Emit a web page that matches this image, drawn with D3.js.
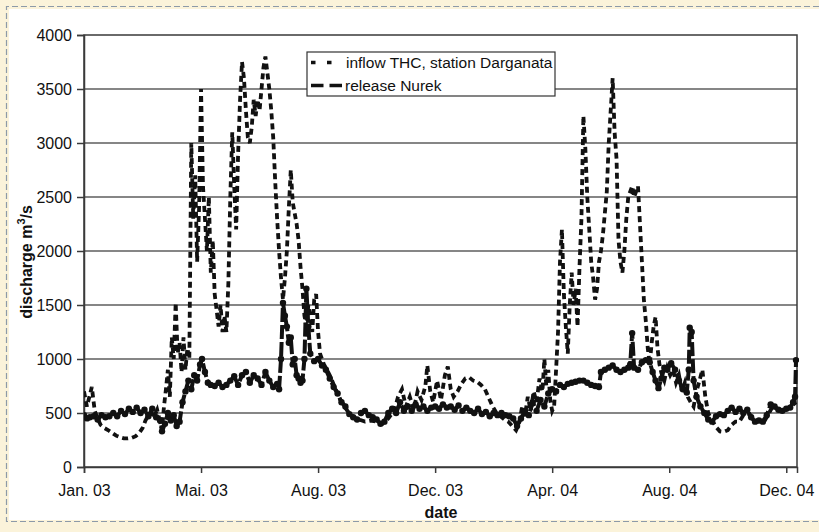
<!DOCTYPE html>
<html>
<head>
<meta charset="utf-8">
<script src="https://cdn.jsdelivr.net/npm/d3@7"></script>
<style>
  html, body { margin: 0; padding: 0; background: #fbf3da; }
  svg { display: block; }
  text { font-family: "Liberation Sans", Arial, sans-serif; fill: #111; }
</style>
</head>
<body>
<svg id="chart" width="819" height="532"></svg>
<script>
// ---------------- DATA ----------------
const startDate = Date.UTC(2003, 0, 1);
const endDate = Date.UTC(2005, 0, 1);
const tickStepDays = 120;
const xTickLabels = ["Jan. 03", "Mai. 03", "Aug. 03", "Dec. 03", "Apr. 04", "Aug. 04", "Dec. 04"];
const yTicks = [0, 500, 1000, 1500, 2000, 2500, 3000, 3500, 4000];
const seriesNames = ["inflow THC, station Darganata", "release Nurek"];

// inflow THC, station Darganata: day offset from 1 Jan 2003 and discharge m3/s
const inflowDays = [0,3,8,11,14,17,21,25,29,33,37,41,45,49,53,57,60,63,66,69,72,75,78,80,82,84,86,88,90,92,94,96,98,100,102,104,106,108,110,112,114,116,118,120,122,124,126,128,130,132,134,136,138,140,142,144,146,148,150,152,154,156,158,160,162,164,166,168,170,172,174,176,178,180,182,184,186,188,190,192,194,196,198,200,202,204,206,208,210,212,214,216,218,220,222,224,226,228,230,232,234,236,238,240,242,246,252,258,264,270,276,282,288,294,300,306,312,318,322,326,330,334,338,342,346,350,352,355,358,362,366,370,373,376,379,383,387,391,395,399,403,407,411,415,419,423,427,431,435,439,443,446,449,452,455,458,461,464,467,470,472,474,476,478,480,482,484,486,488,490,492,494,496,498,500,502,504,506,508,510,512,514,516,518,520,522,524,526,528,530,532,534,536,538,540,542,544,546,548,550,552,554,556,558,560,562,564,566,568,570,572,574,576,578,580,582,584,586,588,590,592,595,598,601,604,607,610,613,616,619,622,625,628,631,634,637,640,644,648,652,656,660,664,668,672,676,682,690,698,706,714,722,730];
const inflowValues = [700,560,740,520,450,390,360,340,315,290,275,265,265,270,285,320,360,430,480,500,470,530,420,350,560,720,900,650,1200,1000,1520,1050,1150,880,1200,900,1100,1000,3000,2300,2700,1900,2400,3500,2600,2300,2000,2500,1800,2100,1600,1450,1300,1500,1250,1400,1250,1700,2500,3100,2600,2200,2900,3400,3750,3600,3300,3050,3000,3150,3400,3250,3400,3300,3500,3700,3800,3650,3500,3300,3050,2650,2300,2000,1750,1550,1750,2000,2400,2750,2450,2350,2250,2100,1850,1650,1400,1300,1500,1400,1250,1550,1600,1250,1050,950,850,720,600,520,460,440,420,430,420,400,450,520,650,720,560,650,530,700,620,750,940,700,600,800,620,850,930,720,650,700,770,820,830,800,790,760,720,640,560,500,470,440,420,380,340,400,550,470,650,520,700,600,820,700,1000,750,900,620,520,560,900,1250,1900,2200,1600,1300,1050,1500,1800,1500,1650,1300,1850,2300,3250,2950,2500,2200,1900,1750,1550,1650,1900,2000,2150,2350,2550,3000,3300,3600,3100,2850,2100,1900,1800,2000,2300,2500,2550,2600,2500,2550,2600,2250,1900,1550,1350,1100,950,1150,1300,1390,1100,950,870,800,920,850,900,780,850,700,780,650,600,560,700,800,900,650,500,430,370,330,325,340,390,420,420,480,490,420,430,560,520,540,600];

// release Nurek: day offset from 1 Jan 2003 and discharge m3/s
const releaseDays = [0,3,6,10,14,18,22,26,30,34,38,42,46,50,54,58,62,66,70,74,78,80,83,86,89,92,95,98,101,104,107,110,113,116,119,121,124,127,130,134,138,142,146,150,154,158,162,166,170,174,178,182,186,190,194,198,200,202,204,206,208,210,212,214,216,218,220,222,224,226,228,230,232,236,240,244,248,252,256,260,264,268,272,276,280,284,288,292,296,300,304,308,312,316,320,324,328,332,336,340,344,348,352,356,360,364,368,372,376,380,384,388,392,396,400,404,408,412,416,420,424,428,432,436,440,444,448,452,456,460,464,468,472,476,480,484,488,492,496,500,504,508,512,516,520,524,528,530,534,538,542,546,550,554,558,560,562,564,568,572,576,580,583,586,589,592,595,598,602,606,610,614,618,620,621,623,625,628,632,636,640,644,648,652,656,660,664,668,672,676,680,684,688,692,696,700,704,708,712,716,720,724,727,729,730];
const releaseValues = [480,450,460,470,440,480,460,470,500,470,520,490,540,510,550,500,530,470,540,460,430,330,400,500,430,480,380,420,600,700,800,720,850,800,950,1000,880,780,760,750,780,740,760,800,840,760,850,880,780,850,820,760,880,800,740,770,720,1000,1520,1400,1300,1150,1200,950,1000,850,820,780,800,1000,1650,1300,1050,980,1000,940,900,820,740,680,600,560,490,460,440,500,520,480,460,440,400,420,500,540,500,600,520,560,520,580,540,560,520,550,560,540,580,550,560,530,570,520,550,520,500,540,490,510,470,500,480,500,480,470,450,380,450,520,480,600,520,620,560,680,720,700,760,740,770,780,790,800,800,780,760,750,740,880,900,920,940,900,880,900,920,950,1240,920,900,970,990,970,880,800,730,820,920,900,960,900,800,720,690,900,1290,1250,800,650,560,500,440,420,470,490,480,520,550,510,540,500,530,460,420,430,420,480,580,560,530,520,540,550,600,650,990];

// ---------------- CHART ----------------
const W = 819, H = 532;
const plot = { left: 84, right: 797, top: 35, bottom: 467 };
const svg = d3.select("#chart");

// page frame
svg.append("rect").attr("x", 0).attr("y", 0).attr("width", W).attr("height", H).attr("fill", "#fbf3da");
svg.append("rect").attr("x", 9).attr("y", 9).attr("width", W - 9).attr("height", 511).attr("fill", "#ffffff");
svg.append("path")
  .attr("d", `M${W},6.5 H6.5 V521.5 H${W}`)
  .attr("fill", "none").attr("stroke", "#8d9aa8").attr("stroke-width", 1.2).attr("stroke-dasharray", "6,3");

const x = d3.scaleUtc().domain([startDate, endDate]).range([plot.left, plot.right]);
const y = d3.scaleLinear().domain([0, 4000]).range([plot.bottom, plot.top]);
const day = d => d3.utcDay.offset(new Date(startDate), d);

// gridlines
svg.append("g").selectAll("line").data(yTicks.filter(v => v > 0 && v < 4000)).join("line")
  .attr("x1", plot.left).attr("x2", plot.right)
  .attr("y1", d => y(d)).attr("y2", d => y(d))
  .attr("stroke", "#5e5e5e").attr("stroke-width", 1.5);

// plot frame
svg.append("rect").attr("x", plot.left).attr("y", plot.top)
  .attr("width", plot.right - plot.left).attr("height", plot.bottom - plot.top)
  .attr("fill", "none").attr("stroke", "#3a3a3a").attr("stroke-width", 1.5);

// y axis
const yAxis = d3.axisLeft(y).tickValues(yTicks).tickSize(7).tickPadding(5).tickFormat(d3.format("d"));
const gy = svg.append("g").attr("transform", `translate(${plot.left},0)`).call(yAxis);
gy.select(".domain").attr("stroke", "#3a3a3a").attr("stroke-width", 1.5);
gy.selectAll(".tick line").attr("stroke", "#3a3a3a").attr("stroke-width", 1.5);
gy.selectAll(".tick text").attr("font-size", 16).attr("font-family", "Liberation Sans, Arial, sans-serif").attr("fill", "#111");

// x axis
const xTickDates = xTickLabels.map((_, i) => day(i * tickStepDays));
const xAxis = d3.axisBottom(x).tickValues(xTickDates).tickSize(6).tickPadding(12)
  .tickFormat((d, i) => xTickLabels[i]);
const gx = svg.append("g").attr("transform", `translate(0,${plot.bottom})`).call(xAxis);
gx.select(".domain").attr("stroke", "#3a3a3a").attr("stroke-width", 1.5);
gx.selectAll(".tick line").attr("stroke", "#3a3a3a").attr("stroke-width", 1.5);
gx.selectAll(".tick text").attr("font-size", 16).attr("font-family", "Liberation Sans, Arial, sans-serif").attr("fill", "#111");

// axis titles
svg.append("text").attr("x", 441).attr("y", 518).attr("text-anchor", "middle")
  .attr("font-size", 16).attr("font-weight", "bold").text("date");
const yt = svg.append("text").attr("transform", "translate(32,262) rotate(-90)")
  .attr("text-anchor", "middle").attr("font-size", 16).attr("font-weight", "bold");
yt.append("tspan").text("discharge m");
yt.append("tspan").attr("font-size", 11).attr("dy", -7).text("3");
yt.append("tspan").attr("dy", 7).text("/s");

// series
const inflowData = inflowDays.map((d, i) => ({ date: day(d), v: inflowValues[i] }));
const releaseData = releaseDays.map((d, i) => ({ date: day(d), v: releaseValues[i] }));
const line = d3.line().x(d => x(d.date)).y(d => y(d.v));

svg.append("clipPath").attr("id", "clip").append("rect")
  .attr("x", plot.left).attr("y", plot.top).attr("width", plot.right - plot.left + 2).attr("height", plot.bottom - plot.top);

const gs = svg.append("g").attr("clip-path", "url(#clip)");
gs.append("path").datum(inflowData).attr("d", line)
  .attr("fill", "none").attr("stroke", "#111").attr("stroke-width", 3.8)
  .attr("stroke-dasharray", "6,4");

gs.append("path").datum(releaseData).attr("d", line)
  .attr("fill", "none").attr("stroke", "#111").attr("stroke-width", 4)
  .attr("stroke-linejoin", "round").attr("stroke-dasharray", "14,3");
gs.append("g").selectAll("circle").data(releaseData).join("circle")
  .attr("cx", d => x(d.date)).attr("cy", d => y(d.v)).attr("r", 3.2).attr("fill", "#111");

// legend
const lg = svg.append("g");
lg.append("rect").attr("x", 307).attr("y", 52).attr("width", 248).attr("height", 44)
  .attr("fill", "#fff").attr("stroke", "#333").attr("stroke-width", 1.2);
lg.append("line").attr("x1", 311).attr("x2", 337).attr("y1", 62.5).attr("y2", 62.5)
  .attr("stroke", "#111").attr("stroke-width", 3.4).attr("stroke-dasharray", "4.5,11.5");
lg.append("line").attr("x1", 311).attr("x2", 342).attr("y1", 85.5).attr("y2", 85.5)
  .attr("stroke", "#111").attr("stroke-width", 3.4).attr("stroke-dasharray", "12.5,6");
lg.append("text").attr("x", 346).attr("y", 68).attr("font-size", 15.5).text(seriesNames[0]);
lg.append("text").attr("x", 345).attr("y", 91).attr("font-size", 15.5).text(seriesNames[1]);
</script>
</body>
</html>
